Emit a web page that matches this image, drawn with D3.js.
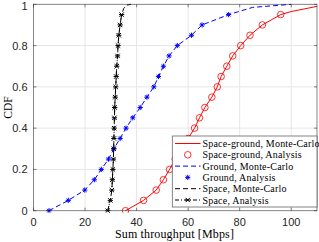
<!DOCTYPE html>
<html><head><meta charset="utf-8">
<script src="https://cdn.jsdelivr.net/npm/d3@7"></script>
<style>body{margin:0;background:#fff}svg{display:block}</style>
</head><body>
<svg id="c" width="319" height="242"></svg>
<script>
// CDF levels at which analysis markers are drawn
const levels = [0,0.05,0.1,0.15,0.2,0.25,0.3,0.35,0.4,0.45,0.5,0.55,0.6,0.65,0.7,0.75,0.8,0.85,0.9,0.95];
// Space-ground analysis (x in Mbps)
const sgAnalysisX = [35.7,42.7,47.6,50.4,52.8,55.0,57.5,60.0,62.5,64.4,66.5,69.2,71.3,72.8,75.0,77.3,80.4,84.0,88.8,95.9];
// Space-ground Monte-Carlo
const sgMcX = [35.7,42.7,47.6,50.4,52.8,55.0,57.5,60.0,62.5,64.4,66.5,69.2,71.3,72.8,75.0,77.3,80.4,84.0,88.8,95.9,100,110];
const sgMcY = [0,0.05,0.1,0.15,0.2,0.25,0.3,0.35,0.4,0.45,0.5,0.55,0.6,0.65,0.7,0.75,0.8,0.85,0.9,0.95,0.965,0.99];
// Ground analysis
const gAnalysisX = [6.0,13.5,19.9,23.6,26.3,29.1,31.2,33.6,35.9,38.5,41.4,44.0,46.7,48.5,50.4,52.6,55.8,61.3,65.4,75.7];
// Ground Monte-Carlo
const gMcX = [6.0,13.5,19.9,23.6,26.3,29.1,31.2,33.6,35.9,38.5,41.4,44.0,46.7,48.5,50.4,52.6,55.8,61.3,65.4,75.7,85,100];
const gMcY = [0,0.05,0.1,0.15,0.2,0.25,0.3,0.35,0.4,0.45,0.5,0.55,0.6,0.65,0.7,0.75,0.8,0.85,0.9,0.95,0.985,1];
// Space analysis
const sAnalysisX = [28.8,29.8,30.4,30.6,30.8,31.0,31.1,31.2,31.3,31.4,31.5,31.7,31.9,32.1,32.3,32.6,32.8,33.1,33.6,34.2];
// Space Monte-Carlo
const sMcX = [28.8,29.8,30.4,30.6,30.8,31.0,31.1,31.2,31.3,31.4,31.5,31.7,31.9,32.1,32.3,32.6,32.8,33.1,33.6,34.2,35.0,36.2,37.8];
const sMcY = [0,0.05,0.1,0.15,0.2,0.25,0.3,0.35,0.4,0.45,0.5,0.55,0.6,0.65,0.7,0.75,0.8,0.85,0.9,0.95,0.98,0.996,1];

const xTicks = [0,20,40,60,80,100];
const yTicks = [0,0.2,0.4,0.6,0.8,1];
const legendLabels = ["Space-ground, Monte-Carlo","Space-ground, Analysis","Ground, Monte-Carlo","Ground, Analysis","Space, Monte-Carlo","Space, Analysis"];

const svg = d3.select("#c");
const L = 33.5, R = 317, T = 4.3, B = 210.7;
const x = d3.scaleLinear().domain([0,110]).range([L,R]);
const y = d3.scaleLinear().domain([0,1]).range([B,T]);
const axisCol = "#262626";
const sans = "'Liberation Sans', Arial, sans-serif";
const serif = "'Liberation Serif', 'Times New Roman', serif";

// grid
const grid = svg.append("g").attr("stroke","#e6e6e6").attr("stroke-width",1);
xTicks.slice(1).forEach(t=>grid.append("line").attr("x1",x(t)).attr("x2",x(t)).attr("y1",T).attr("y2",B));
yTicks.slice(1,-1).forEach(t=>grid.append("line").attr("y1",y(t)).attr("y2",y(t)).attr("x1",L).attr("x2",R));

// clip
svg.append("clipPath").attr("id","clip").append("rect").attr("x",L).attr("y",T-2).attr("width",R-L).attr("height",B-T+4);
const plot = svg.append("g").attr("clip-path","url(#clip)");

const line = d3.line().x(d=>x(d[0])).y(d=>y(d[1]));

function star(g, cx, cy, r, col, w){
  const s = g.append("g").attr("stroke",col).attr("stroke-width",w).attr("fill","none");
  s.append("line").attr("x1",cx-r).attr("x2",cx+r).attr("y1",cy).attr("y2",cy);
  s.append("line").attr("x1",cx).attr("x2",cx).attr("y1",cy-r).attr("y2",cy+r);
  const q=r*0.72;
  s.append("line").attr("x1",cx-q).attr("x2",cx+q).attr("y1",cy-q).attr("y2",cy+q);
  s.append("line").attr("x1",cx-q).attr("x2",cx+q).attr("y1",cy+q).attr("y2",cy-q);
}
function xmark(g, cx, cy, r, col, w){
  const s = g.append("g").attr("stroke",col).attr("stroke-width",w);
  s.append("line").attr("x1",cx-r).attr("x2",cx+r).attr("y1",cy-r).attr("y2",cy+r);
  s.append("line").attr("x1",cx-r).attr("x2",cx+r).attr("y1",cy+r).attr("y2",cy-r);
  s.append("line").attr("x1",cx-r*1.2).attr("x2",cx+r*1.2).attr("y1",cy).attr("y2",cy);
}

// Space-ground MC (red solid)
plot.append("path").attr("d",line(d3.zip(sgMcX,sgMcY))).attr("fill","none").attr("stroke","#ff0000").attr("stroke-width",1);
// Ground MC (blue dashed)
plot.append("path").attr("d",line(d3.zip(gMcX,gMcY))).attr("fill","none").attr("stroke","#0000ff").attr("stroke-width",1).attr("stroke-dasharray","5,3");
// Space MC (black dashed)
plot.append("path").attr("d",line(d3.zip(sMcX,sMcY))).attr("fill","none").attr("stroke","#000").attr("stroke-width",1).attr("stroke-dasharray","5,3");
// Space analysis (black dash-dot)
plot.append("path").attr("d",line(d3.zip(sAnalysisX,levels))).attr("fill","none").attr("stroke","#000").attr("stroke-width",1).attr("stroke-dasharray","4,2,1,2");

// markers
sgAnalysisX.forEach((v,i)=>plot.append("circle").attr("cx",x(v)).attr("cy",y(levels[i])).attr("r",3.3).attr("fill","none").attr("stroke","#ff0000").attr("stroke-width",0.8));
gAnalysisX.forEach((v,i)=>star(plot,x(v),y(levels[i]),2.6,"#0000ff",1));
sAnalysisX.forEach((v,i)=>xmark(plot,x(v),y(levels[i]),2.2,"#000",1));

// axes box
svg.append("rect").attr("x",L).attr("y",T).attr("width",R-L).attr("height",B-T).attr("fill","none").attr("stroke",axisCol).attr("stroke-width",0.8).attr("stroke-opacity",0.7);
const ticks = svg.append("g").attr("stroke",axisCol).attr("stroke-width",0.8).attr("stroke-opacity",0.7);
xTicks.forEach(t=>{ticks.append("line").attr("x1",x(t)).attr("x2",x(t)).attr("y1",B).attr("y2",B-3);ticks.append("line").attr("x1",x(t)).attr("x2",x(t)).attr("y1",T).attr("y2",T+3);});
yTicks.forEach(t=>{ticks.append("line").attr("y1",y(t)).attr("y2",y(t)).attr("x1",L).attr("x2",L+3);ticks.append("line").attr("y1",y(t)).attr("y2",y(t)).attr("x1",R).attr("x2",R-3);});

// tick labels
xTicks.forEach(t=>svg.append("text").attr("x",x(t)).attr("y",B+15).attr("text-anchor","middle").attr("font-family",sans).attr("font-size",11).attr("fill",axisCol).text(t));
yTicks.forEach(t=>svg.append("text").attr("x",L-6).attr("y",Math.max(y(t)+4,9.5)).attr("text-anchor","end").attr("font-family",sans).attr("font-size",11).attr("fill",axisCol).text(t));

// axis labels
svg.append("text").attr("x",174.5).attr("y",238).attr("text-anchor","middle").attr("font-family",serif).attr("font-size",12).attr("letter-spacing",0.15).attr("fill","#000").text("Sum throughput [Mbps]");
svg.append("text").attr("transform","translate(12,"+((T+B)/2)+") rotate(-90)").attr("text-anchor","middle").attr("font-family",serif).attr("font-size",11.5).attr("fill","#000").text("CDF");

// legend
const lg = svg.append("g");
const lx0 = 172.3, ly0 = 136, lw = R-172.3, lh = 71;
lg.append("rect").attr("x",lx0).attr("y",ly0).attr("width",lw).attr("height",lh).attr("fill","#fff").attr("stroke",axisCol).attr("stroke-width",0.8).attr("stroke-opacity",0.7);
const rowY = i => 143.5 + i*11.3;
const sx1 = 175, sx2 = 200.5, smid = (sx1+sx2)/2;
lg.append("line").attr("x1",sx1).attr("x2",sx2).attr("y1",rowY(0)).attr("y2",rowY(0)).attr("stroke","#ff0000").attr("stroke-width",1);
lg.append("circle").attr("cx",smid).attr("cy",rowY(1)).attr("r",3.3).attr("fill","none").attr("stroke","#ff0000").attr("stroke-width",0.8);
lg.append("line").attr("x1",sx1).attr("x2",sx2).attr("y1",rowY(2)).attr("y2",rowY(2)).attr("stroke","#0000ff").attr("stroke-width",1).attr("stroke-dasharray","5,3");
star(lg,smid,rowY(3),2.6,"#0000ff",1);
lg.append("line").attr("x1",sx1).attr("x2",sx2).attr("y1",rowY(4)).attr("y2",rowY(4)).attr("stroke","#000").attr("stroke-width",1).attr("stroke-dasharray","5,3");
lg.append("line").attr("x1",sx1).attr("x2",sx2).attr("y1",rowY(5)).attr("y2",rowY(5)).attr("stroke","#000").attr("stroke-width",1).attr("stroke-dasharray","4,2,1,2");
xmark(lg,smid,rowY(5),2.2,"#000",1);
legendLabels.forEach((s,i)=>lg.append("text").attr("x",202.5).attr("y",rowY(i)+3.5).attr("font-family",serif).attr("font-size",10).attr("letter-spacing",0.2).attr("fill","#000").text(s));
</script>
</body></html>
